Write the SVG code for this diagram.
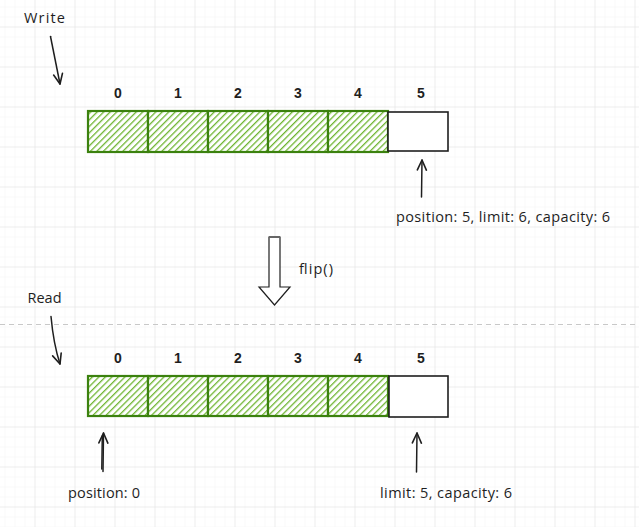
<svg xmlns="http://www.w3.org/2000/svg" width="639" height="527" viewBox="0 0 639 527">
<defs>
  <pattern id="minor" x="4.5" y="6.5" width="10" height="10" patternUnits="userSpaceOnUse">
    <path d="M0,0 V10 M0,0 H10" fill="none" stroke="#f3f3f3" stroke-width="1"/>
  </pattern>
  <pattern id="major" x="34.5" y="26.5" width="40" height="40" patternUnits="userSpaceOnUse">
    <path d="M0,0 V40 M0,0 H40" fill="none" stroke="#e3e3e3" stroke-width="1"/>
  </pattern>
  <pattern id="hatch" width="4.6" height="4.6" patternUnits="userSpaceOnUse" patternTransform="rotate(45)">
    <rect width="4.6" height="4.6" fill="#ffffff"/>
    <line x1="0" y1="0" x2="0" y2="4.6" stroke="#6fb532" stroke-width="2.6"/>
  </pattern>
  <marker id="arrow" viewBox="0 0 12 12" refX="11" refY="6" markerWidth="12" markerHeight="12" markerUnits="userSpaceOnUse" orient="auto">
    <path d="M1,1.5 L11,6 L1,10.5" fill="none" stroke="#1e1e1e" stroke-width="1.6" stroke-linecap="round" stroke-linejoin="round"/>
  </marker>
  <style>
    .cellg { fill: url(#hatch); stroke: #3b810e; stroke-width: 2.2; }
    .celle { fill: #ffffff; stroke: #1e1e1e; stroke-width: 1.6; }
    .idx { font-family: "Liberation Sans", Arial, sans-serif; font-weight: bold; font-size: 14px; fill: #1e1e1e; text-anchor: middle; }
    .lbl { font-family: "Open Sans", "Liberation Sans", sans-serif; font-size: 14.5px; fill: #1e1e1e; }
    .conn { fill: none; stroke: #1e1e1e; stroke-width: 1.5; stroke-linecap: round; }
  </style>
</defs>

<rect width="639" height="527" fill="#ffffff"/>
<rect width="639" height="527" fill="url(#minor)"/>
<rect width="639" height="527" fill="url(#major)"/>

<line x1="0" y1="324.5" x2="639" y2="324.5" stroke="#c8c8c8" stroke-width="1" stroke-dasharray="5,4"/>

<g id="write-label"><text class="lbl" x="24" y="22.5" textLength="41" font-size="15.5">Write</text></g>
<g id="read-label"><text class="lbl" x="27.5" y="302.5" textLength="34" font-size="15.5">Read</text></g>

<g id="write-buffer">
  <g id="w0"><rect class="cellg" x="88" y="111" width="60" height="41"/><text class="idx" x="118" y="97.5">0</text></g>
  <g id="w1"><rect class="cellg" x="148" y="111" width="60" height="41"/><text class="idx" x="178" y="97.5">1</text></g>
  <g id="w2"><rect class="cellg" x="208" y="111" width="60" height="41"/><text class="idx" x="238" y="97.5">2</text></g>
  <g id="w3"><rect class="cellg" x="268" y="111" width="60" height="41"/><text class="idx" x="298" y="97.5">3</text></g>
  <g id="w4"><rect class="cellg" x="328" y="111" width="60" height="41"/><text class="idx" x="358" y="97.5">4</text></g>
  <g id="w5"><rect class="celle" x="388" y="112" width="60" height="39"/><text class="idx" x="421" y="97.5">5</text></g>
</g>

<g id="read-buffer">
  <g id="r0"><rect class="cellg" x="88" y="376" width="60" height="40"/><text class="idx" x="118" y="362.5">0</text></g>
  <g id="r1"><rect class="cellg" x="148" y="376" width="60" height="40"/><text class="idx" x="178" y="362.5">1</text></g>
  <g id="r2"><rect class="cellg" x="208" y="376" width="60" height="40"/><text class="idx" x="238" y="362.5">2</text></g>
  <g id="r3"><rect class="cellg" x="268" y="376" width="60" height="40"/><text class="idx" x="298" y="362.5">3</text></g>
  <g id="r4"><rect class="cellg" x="328" y="376" width="60" height="40"/><text class="idx" x="358" y="362.5">4</text></g>
  <g id="r5"><rect class="celle" x="389" y="376" width="59" height="41"/><text class="idx" x="421" y="362.5">5</text></g>
</g>

<g id="write-state"><text class="lbl" x="396" y="222" textLength="214">position: 5, limit: 6, capacity: 6</text></g>
<g id="read-position"><text class="lbl" x="68" y="498" textLength="72">position: 0</text></g>
<g id="read-limit"><text class="lbl" x="380" y="497.5" textLength="132">limit: 5, capacity: 6</text></g>

<g id="flip">
  <polygon points="269,237 280,237 280,287 290,287 274.5,305 259,287 269,287" fill="#ffffff" stroke="#1e1e1e" stroke-width="1.2" stroke-linejoin="miter"/>
  <line x1="269" y1="237" x2="280" y2="237" stroke="#666666" stroke-width="2"/>
  <text class="lbl" x="299" y="274" textLength="34">flip()</text>
</g>

<g id="connectors">
  <path class="conn" d="M50.5,36.5 L60,84" marker-end="url(#arrow)"/>
  <path class="conn" d="M51,316.5 Q53.5,344 60,364" marker-end="url(#arrow)"/>
  <path class="conn" d="M421.5,197 L422,160" marker-end="url(#arrow)"/>
  <path class="conn" d="M103,471.5 L103.5,433" marker-end="url(#arrow)"/>
  <path class="conn" d="M101.8,469 L102.3,436" stroke-width="1" stroke="#555555"/>
  <path class="conn" d="M416.5,472 L417,433" marker-end="url(#arrow)"/>
</g>
</svg>
